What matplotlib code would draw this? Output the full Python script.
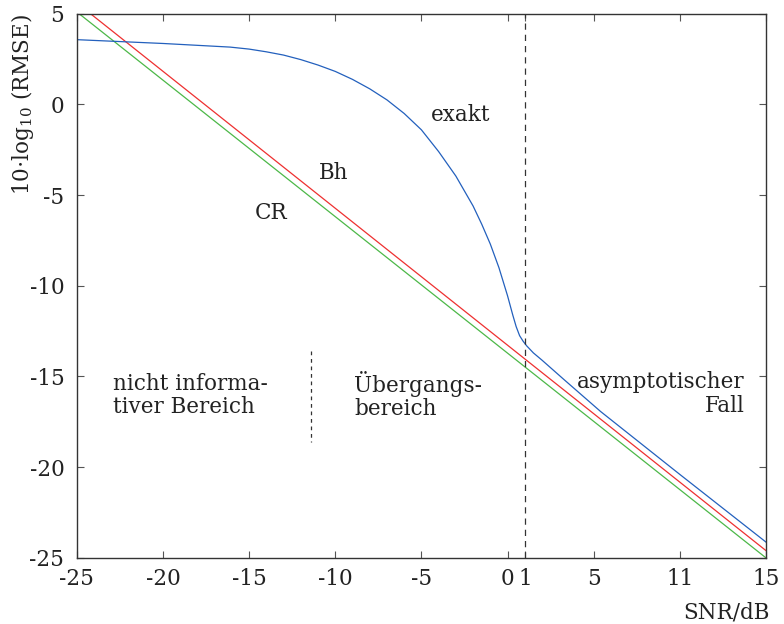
# Import libraries
import matplotlib.pyplot as plt

plt.rcParams['font.family'] = ['DejaVu Serif']
plt.rcParams['mathtext.fontset'] = 'dejavuserif'

# data
snr_exakt = [-25, -20, -16.1, -15, -14, -13, -12, -11, -10, -9, -8, -7, -6, -5, -4, -3,
             -2, -1.5, -1, -0.5, 0, 0.3, 0.5, 0.7, 0.9, 1.1, 1.5, 2, 3.3, 5.4, 10, 15]
rmse_exakt = [3.57, 3.36, 3.16, 3.05, 2.9, 2.72, 2.47, 2.17, 1.82, 1.38, 0.86, 0.25, -0.5,
              -1.4, -2.6, -3.95, -5.6, -6.6, -7.7, -9.0, -10.55, -11.6, -12.25, -12.75,
              -13.05, -13.3, -13.7, -14.1, -15.19, -16.93, -20.4, -24.13]
snr_bh = [-25, 15]
rmse_bh = [5.6, -24.6]
snr_cr = [-25, 15]
rmse_cr = [5.1, -25.0]

xtick_pos = [-25, -20, -15, -10, -5, 0, 1, 5, 10, 15]
xtick_lab = ['-25', '-20', '-15', '-10', '-5', '0', '1', '5', '11', '15']
ytick_pos = [5, 0, -5, -10, -15, -20, -25]
ytick_lab = ['5', '0', '-5', '-10', '-15', '-20', '-25']

fig = plt.figure(figsize=(7.84, 6.24), dpi=100)
ax = fig.add_axes([0.098, 0.106, 0.879, 0.872])
ax.set_xlim(-25, 15)
ax.set_ylim(-25, 5)

ax.plot(snr_cr, rmse_cr, color='#4cb848', linewidth=0.9)
ax.plot(snr_bh, rmse_bh, color='#ee3030', linewidth=0.9)
ax.plot(snr_exakt, rmse_exakt, color='#2360bd', linewidth=0.9)

# region separators
ax.axvline(1, color='#333333', linewidth=0.9, linestyle=(0, (5, 4)))
ax.plot([-11.4, -11.4], [-13.6, -18.6], color='#333333', linewidth=0.9, linestyle=(0, (3, 3)))

fs = 15.5
ax.text(-2.7, -0.6, 'exakt', fontsize=fs, ha='center', va='center', color='#222222')
ax.text(-10.1, -3.8, 'Bh', fontsize=fs, ha='center', va='center', color='#222222')
ax.text(-13.7, -6.0, 'CR', fontsize=fs, ha='center', va='center', color='#222222')
ax.text(-22.9, -16.05, 'nicht informa-\ntiver Bereich', fontsize=fs, ha='left', va='center',
        linespacing=1.1, color='#222222')
ax.text(-8.9, -16.05, 'Übergangs-\nbereich', fontsize=fs, ha='left', va='center',
        linespacing=1.1, color='#222222')
ax.text(13.75, -15.95, 'asymptotischer\nFall', fontsize=fs, ha='right', va='center',
        linespacing=1.1, multialignment='right', color='#222222')

ax.set_xticks(xtick_pos)
ax.set_xticklabels(xtick_lab)
ax.set_yticks(ytick_pos)
ax.set_yticklabels(ytick_lab)
ax.tick_params(direction='in', length=5, width=0.8, color='#555555', labelsize=fs,
               top=True, right=True, labelcolor='#222222')
ax.tick_params(axis='x', pad=7)
ax.tick_params(axis='y', pad=9)
for s in ax.spines.values():
    s.set_color('#333333')
    s.set_linewidth(1.0)

fig.text(0.029, 0.978, r'10$\cdot$log$_{10}$ (RMSE)', rotation=90, fontsize=fs,
         ha='center', va='top', color='#222222')
fig.text(0.982, 0.019, 'SNR/dB', fontsize=fs, ha='right', va='center', color='#222222')

plt.savefig('out.png', dpi=100)
